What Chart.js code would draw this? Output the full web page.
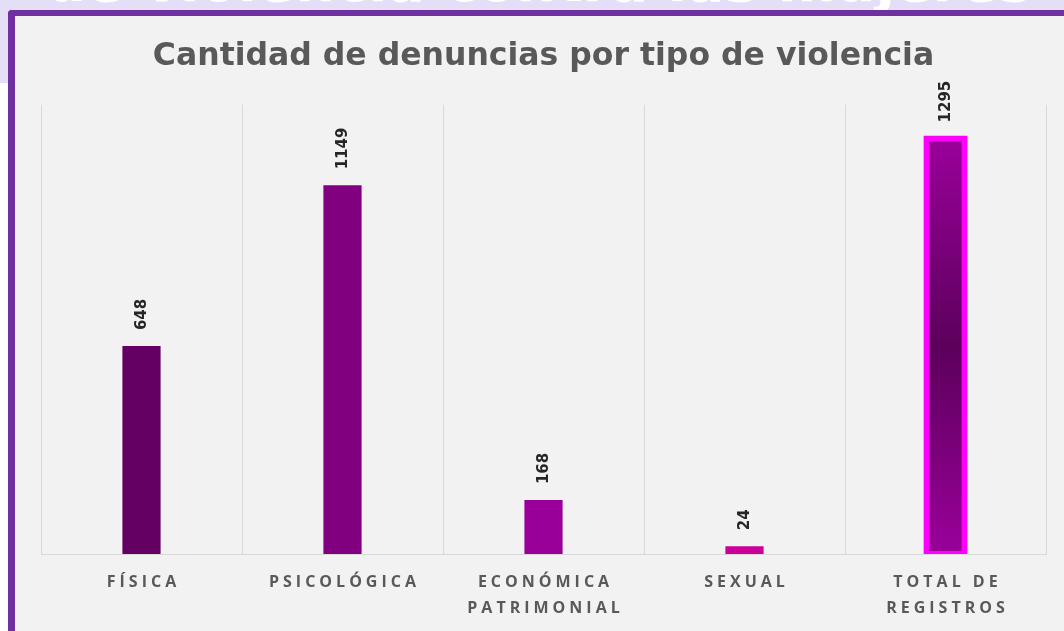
<!DOCTYPE html>
<html lang="es">
<head>
<meta charset="utf-8">
<title>Cantidad de denuncias por tipo de violencia</title>
<script src="https://cdn.jsdelivr.net/npm/chart.js@4/dist/chart.umd.min.js"></script>
<style>
  html, body { margin: 0; padding: 0; background: #ffffff; }
  #page { position: relative; width: 1064px; height: 631px; overflow: hidden; }
  #banner {
    position: absolute; left: 0; top: 0; width: 1064px; height: 83px;
    background: #e4def6; overflow: hidden;
  }
  #banner span {
    position: absolute; left: 46px; top: -46px;
    font: bold 56px "DejaVu Sans", sans-serif; line-height: 56px;
    color: #ffffff; white-space: nowrap;
  }
  #frame {
    position: absolute; left: 8px; top: 10px; width: 1100px; height: 700px;
    background: #f2f2f2; border-top: 6px solid #7030a0; border-left: 7px solid #7030a0;
    border-top-left-radius: 4px;
  }
  #chartWrap { position: absolute; left: 0; top: 0; width: 1064px; height: 631px; }
</style>
</head>
<body>
<div id="page">
  <div id="banner"><span>de violencia contra las mujeres</span></div>
  <div id="frame"></div>
  <div id="chartWrap"><canvas id="denunciasChart" width="1064" height="631"></canvas></div>
</div>
<script>
// Datos
const categorias = ["FÍSICA", "PSICOLÓGICA", ["ECONÓMICA", "PATRIMONIAL"], "SEXUAL", ["TOTAL DE", "REGISTROS"]];
const denuncias = [648, 1149, 168, 24, 1295];
const coloresBarra = ["#640064", "#800080", "#990099", "#cc0099", "#990099"];
const yMax = 1400;

// Relleno degradado para la barra de total
function rellenoBarra(ctx) {
  const i = ctx.dataIndex;
  if (i !== 4) return coloresBarra[i];
  const ys = ctx.chart.scales.y;
  if (!ys) return coloresBarra[i];
  const top = ys.getPixelForValue(denuncias[i]);
  const bottom = ys.getPixelForValue(0);
  const g = ctx.chart.ctx.createLinearGradient(0, top, 0, bottom);
  g.addColorStop(0, "#9a009a");
  g.addColorStop(0.5, "#5c005c");
  g.addColorStop(1, "#9a009a");
  return g;
}

// Espaciado de letras en las etiquetas del eje x
const espaciadoTicks = {
  id: "espaciadoTicks",
  afterUpdate(chart) {
    const xs = chart.scales.x;
    if (!xs || xs._espaciado) return;
    const orig = xs.drawLabels;
    xs.drawLabels = function(area) {
      const c = this.ctx;
      c.save();
      c.letterSpacing = "4px";
      c.translate(2, 0);
      orig.call(this, area);
      c.restore();
    };
    xs._espaciado = true;
  }
};

// Valores encima de cada barra, girados
const etiquetasValor = {
  id: "etiquetasValor",
  afterDatasetsDraw(chart) {
    const c = chart.ctx;
    const meta = chart.getDatasetMeta(0);
    c.save();
    c.font = "bold 15px 'DejaVu Sans'";
    c.fillStyle = "#262626";
    c.textAlign = "left";
    c.textBaseline = "middle";
    meta.data.forEach((bar, i) => {
      c.save();
      c.translate(bar.x + 1, bar.y - 16);
      c.rotate(-Math.PI / 2);
      c.fillText(String(denuncias[i]), 0, 0);
      c.restore();
    });
    c.restore();
  }
};

const chart = new Chart(document.getElementById("denunciasChart"), {
  type: "bar",
  data: {
    labels: categorias,
    datasets: [{
      label: "Denuncias",
      data: denuncias,
      backgroundColor: rellenoBarra,
      borderColor: ctx => ctx.dataIndex === 4 ? "#ff00ff" : "rgba(0,0,0,0)",
      borderWidth: ctx => ctx.dataIndex === 4 ? 6 : 0,
      borderSkipped: false,
      inflateAmount: ctx => ctx.dataIndex === 4 ? 3 : "auto",
      categoryPercentage: 1,
      barPercentage: 0.19
    }]
  },
  options: {
    responsive: false,
    animation: false,
    devicePixelRatio: 1,
    layout: { padding: { top: 36, left: 41, right: 18, bottom: 10 } },
    plugins: {
      legend: { display: false },
      tooltip: { enabled: false },
      title: {
        display: true,
        text: "Cantidad de denuncias por tipo de violencia",
        color: "#595959",
        font: { family: "'DejaVu Sans'", size: 31.5, weight: "bold", lineHeight: 1.2 },
        padding: { top: 2, bottom: 29 }
      }
    },
    scales: {
      x: {
        grid: { display: true, color: "#d9d9d9", lineWidth: 1, drawTicks: false, offset: true },
        border: { display: true, color: "#d9d9d9", width: 1 },
        ticks: {
          color: "#595959",
          font: { family: "'Open Sans'", size: 16, weight: "bold", lineHeight: 1.66 },
          padding: 15,
          maxRotation: 0,
          autoSkip: false
        },
        afterFit(scale) { scale.height = 67; }
      },
      y: {
        display: false,
        min: 0,
        max: yMax,
        grid: { display: false }
      }
    }
  },
  plugins: [espaciadoTicks, etiquetasValor]
});
chart.draw();
</script>
</body>
</html>
